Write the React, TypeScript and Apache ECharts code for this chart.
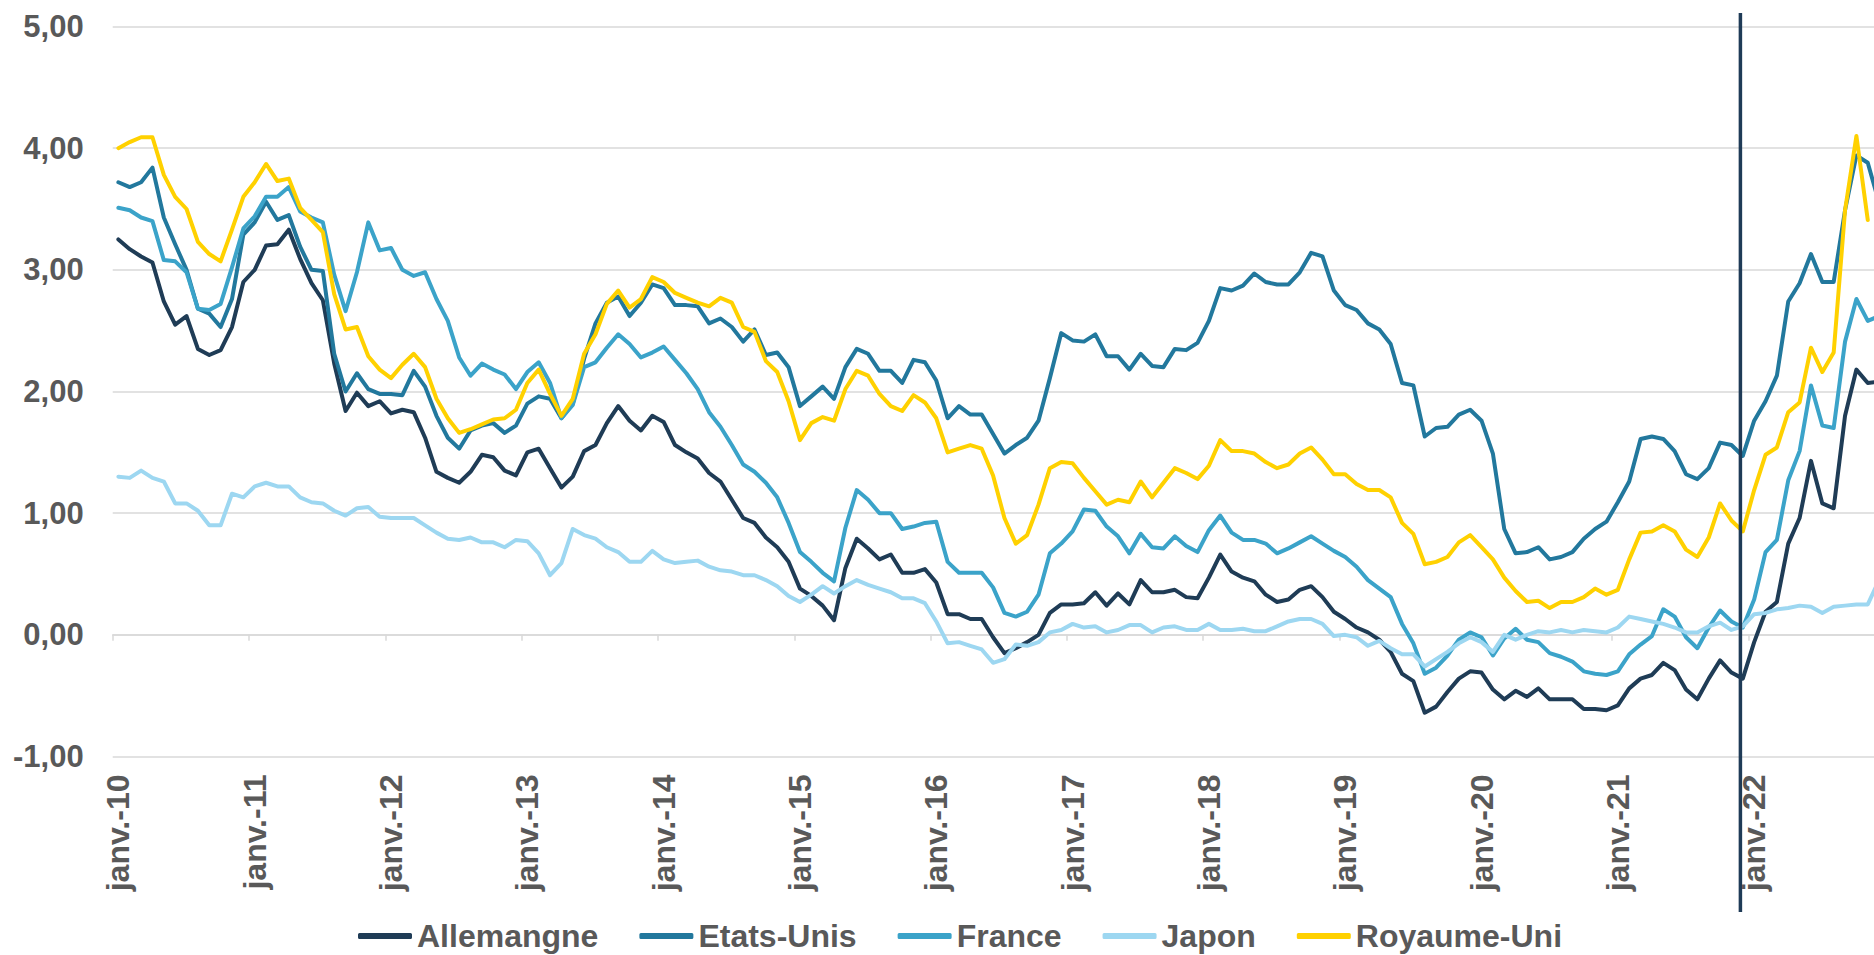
import React, { useEffect, useRef } from 'react';
import * as echarts from 'echarts';

const MONTHS = ['janv.', 'févr.', 'mars', 'avr.', 'mai', 'juin', 'juil.', 'août', 'sept.', 'oct.', 'nov.', 'déc.'];
const YEARS = ['10', '11', '12', '13', '14', '15', '16', '17', '18', '19', '20', '21', '22'];
const categories: string[] = [];
YEARS.forEach((y) => MONTHS.forEach((m) => categories.push(`${m}-${y}`)));

const MARKER_MONTH = 'déc.-21';

const allemagne = [
  3.25, 3.17, 3.11, 3.06, 2.74, 2.55, 2.62, 2.35, 2.30, 2.34, 2.53, 2.90,
  3.00, 3.20, 3.21, 3.33, 3.09, 2.89, 2.75, 2.23, 1.84, 1.99, 1.88, 1.92,
  1.82, 1.85, 1.83, 1.62, 1.34, 1.29, 1.25, 1.34, 1.48, 1.46, 1.35, 1.31,
  1.50, 1.53, 1.37, 1.21, 1.30, 1.51, 1.56, 1.74, 1.88, 1.76, 1.68, 1.80,
  1.75, 1.56, 1.50, 1.45, 1.33, 1.26, 1.11, 0.96, 0.92, 0.80, 0.72, 0.60,
  0.38, 0.32, 0.24, 0.12, 0.55, 0.79, 0.71, 0.62, 0.66, 0.51, 0.51, 0.54,
  0.43, 0.17, 0.17, 0.13, 0.13, -0.02, -0.15, -0.11, -0.06, 0.00, 0.18, 0.25,
  0.25, 0.26, 0.35, 0.24, 0.34, 0.25, 0.45, 0.35, 0.35, 0.37, 0.31, 0.30,
  0.47, 0.66, 0.52, 0.47, 0.44, 0.33, 0.27, 0.29, 0.37, 0.40, 0.31, 0.19,
  0.13, 0.06, 0.02, -0.04, -0.14, -0.32, -0.38, -0.64, -0.59, -0.47, -0.36, -0.30,
  -0.31, -0.45, -0.53, -0.46, -0.51, -0.44, -0.53, -0.53, -0.53, -0.61, -0.61, -0.62,
  -0.58, -0.44, -0.36, -0.33, -0.23, -0.29, -0.45, -0.53, -0.36, -0.21, -0.31, -0.36,
  -0.06, 0.19, 0.27, 0.75, 0.96, 1.43, 1.08, 1.04, 1.80, 2.18, 2.07, 2.08,
];

const etatsUnis = [
  3.72, 3.68, 3.72, 3.84, 3.43, 3.21, 3.00, 2.68, 2.64, 2.53, 2.76, 3.29,
  3.39, 3.56, 3.41, 3.45, 3.19, 3.00, 2.99, 2.31, 2.00, 2.15, 2.02, 1.98,
  1.98, 1.97, 2.17, 2.04, 1.80, 1.62, 1.53, 1.68, 1.72, 1.74, 1.66, 1.72,
  1.90, 1.96, 1.94, 1.78, 1.90, 2.27, 2.56, 2.73, 2.78, 2.62, 2.73, 2.88,
  2.85, 2.71, 2.71, 2.70, 2.56, 2.60, 2.53, 2.41, 2.51, 2.30, 2.32, 2.20,
  1.88, 1.96, 2.04, 1.94, 2.20, 2.35, 2.31, 2.17, 2.17, 2.07, 2.26, 2.24,
  2.09, 1.78, 1.88, 1.81, 1.81, 1.65, 1.49, 1.56, 1.62, 1.76, 2.11, 2.48,
  2.42, 2.41, 2.47, 2.29, 2.29, 2.18, 2.31, 2.21, 2.20, 2.35, 2.34, 2.40,
  2.58, 2.85, 2.83, 2.87, 2.97, 2.90, 2.88, 2.88, 2.98, 3.14, 3.11, 2.83,
  2.71, 2.67, 2.56, 2.51, 2.39, 2.07, 2.05, 1.63, 1.70, 1.71, 1.81, 1.85,
  1.76, 1.49, 0.87, 0.67, 0.68, 0.72, 0.62, 0.64, 0.68, 0.79, 0.87, 0.93,
  1.09, 1.26, 1.61, 1.63, 1.61, 1.51, 1.32, 1.28, 1.37, 1.58, 1.56, 1.47,
  1.76, 1.92, 2.13, 2.74, 2.89, 3.13, 2.90, 2.90, 3.49, 3.94, 3.88, 3.55,
];

const france = [
  3.51, 3.49, 3.43, 3.40, 3.08, 3.07, 2.98, 2.68, 2.67, 2.72, 3.02, 3.34,
  3.44, 3.60, 3.60, 3.68, 3.48, 3.43, 3.39, 2.96, 2.66, 2.98, 3.39, 3.16,
  3.18, 3.00, 2.95, 2.98, 2.76, 2.58, 2.28, 2.13, 2.23, 2.18, 2.14, 2.02,
  2.16, 2.24, 2.07, 1.78, 1.89, 2.20, 2.24, 2.36, 2.47, 2.39, 2.28, 2.32,
  2.37, 2.26, 2.15, 2.02, 1.83, 1.71, 1.56, 1.40, 1.34, 1.25, 1.13, 0.92,
  0.68, 0.60, 0.51, 0.44, 0.88, 1.19, 1.11, 1.00, 1.00, 0.87, 0.89, 0.92,
  0.93, 0.60, 0.51, 0.51, 0.51, 0.39, 0.18, 0.15, 0.19, 0.33, 0.67, 0.75,
  0.85, 1.03, 1.02, 0.89, 0.81, 0.67, 0.83, 0.72, 0.71, 0.81, 0.73, 0.68,
  0.86, 0.98, 0.84, 0.78, 0.78, 0.75, 0.67, 0.71, 0.76, 0.81, 0.75, 0.69,
  0.64, 0.56, 0.45, 0.38, 0.31, 0.09, -0.07, -0.32, -0.27, -0.17, -0.04, 0.02,
  -0.02, -0.17, -0.03, 0.05, -0.04, -0.06, -0.15, -0.18, -0.22, -0.30, -0.32, -0.33,
  -0.30, -0.16, -0.08, -0.01, 0.21, 0.15, -0.02, -0.11, 0.06, 0.20, 0.11, 0.06,
  0.29, 0.68, 0.78, 1.27, 1.51, 2.05, 1.72, 1.70, 2.41, 2.76, 2.58, 2.62,
];

const japon = [
  1.30, 1.29, 1.35, 1.29, 1.26, 1.08, 1.08, 1.02, 0.90, 0.90, 1.16, 1.13,
  1.22, 1.25, 1.22, 1.22, 1.13, 1.09, 1.08, 1.02, 0.98, 1.04, 1.05, 0.97,
  0.96, 0.96, 0.96, 0.90, 0.84, 0.79, 0.78, 0.80, 0.76, 0.76, 0.72, 0.78,
  0.77, 0.67, 0.49, 0.59, 0.87, 0.82, 0.79, 0.72, 0.68, 0.60, 0.60, 0.69,
  0.62, 0.59, 0.60, 0.61, 0.56, 0.53, 0.52, 0.49, 0.49, 0.45, 0.40, 0.32,
  0.27, 0.33, 0.40, 0.34, 0.40, 0.45, 0.41, 0.38, 0.35, 0.30, 0.30, 0.26,
  0.11, -0.07, -0.06, -0.09, -0.12, -0.23, -0.20, -0.08, -0.09, -0.06, 0.02, 0.04,
  0.09, 0.06, 0.07, 0.02, 0.04, 0.08, 0.08, 0.02, 0.06, 0.07, 0.04, 0.04,
  0.09, 0.04, 0.04, 0.05, 0.03, 0.03, 0.07, 0.11, 0.13, 0.13, 0.09, -0.01,
  0.00, -0.02, -0.09, -0.05, -0.11, -0.16, -0.16, -0.26, -0.20, -0.14, -0.07, -0.02,
  -0.06, -0.14, 0.00, -0.04, 0.00, 0.03, 0.02, 0.04, 0.02, 0.04, 0.03, 0.02,
  0.06, 0.15, 0.13, 0.11, 0.09, 0.06, 0.02, 0.02, 0.07, 0.10, 0.04, 0.07,
  0.17, 0.18, 0.21, 0.22, 0.24, 0.23, 0.18, 0.23, 0.24, 0.25, 0.25, 0.45,
];

const royaumeUni = [
  4.00, 4.05, 4.09, 4.09, 3.78, 3.60, 3.50, 3.23, 3.13, 3.07, 3.33, 3.60,
  3.72, 3.87, 3.73, 3.75, 3.51, 3.41, 3.31, 2.80, 2.51, 2.53, 2.29, 2.18,
  2.11, 2.22, 2.31, 2.20, 1.94, 1.78, 1.66, 1.69, 1.73, 1.77, 1.78, 1.85,
  2.07, 2.18, 1.98, 1.80, 1.94, 2.31, 2.47, 2.72, 2.83, 2.69, 2.76, 2.94,
  2.90, 2.81, 2.77, 2.73, 2.70, 2.77, 2.73, 2.53, 2.49, 2.25, 2.16, 1.92,
  1.60, 1.74, 1.79, 1.76, 2.02, 2.17, 2.13, 1.98, 1.88, 1.84, 1.97, 1.91,
  1.78, 1.50, 1.53, 1.56, 1.53, 1.31, 0.96, 0.75, 0.82, 1.07, 1.37, 1.42,
  1.41, 1.29, 1.18, 1.07, 1.11, 1.09, 1.26, 1.13, 1.25, 1.37, 1.33, 1.28,
  1.39, 1.60, 1.51, 1.51, 1.49, 1.42, 1.37, 1.40, 1.49, 1.54, 1.44, 1.32,
  1.32, 1.24, 1.19, 1.19, 1.13, 0.92, 0.83, 0.58, 0.60, 0.64, 0.76, 0.82,
  0.72, 0.62, 0.47, 0.36, 0.27, 0.28, 0.22, 0.27, 0.27, 0.31, 0.38, 0.33,
  0.37, 0.62, 0.84, 0.85, 0.90, 0.85, 0.70, 0.64, 0.80, 1.08, 0.94, 0.85,
  1.19, 1.48, 1.54, 1.83, 1.91, 2.36, 2.16, 2.32, 3.49, 4.10, 3.41, null,
];

const SERIES = [
  { name: 'Allemangne', data: allemagne, color: '#1F3C56' },
  { name: 'Etats-Unis', data: etatsUnis, color: '#22789D' },
  { name: 'France', data: france, color: '#3BA3C9' },
  { name: 'Japon', data: japon, color: '#9DD7F1' },
  { name: 'Royaume-Uni', data: royaumeUni, color: '#FFD100' },
];

const FONT = "'Liberation Sans', Arial, Helvetica, sans-serif";
const GREY = '#595959';
const GRID = '#D9D9D9';

export default function App() {
  const ref = useRef<HTMLDivElement>(null);

  useEffect(() => {
    if (!ref.current) return;
    const chart = echarts.init(ref.current, null, { renderer: 'svg' });
    chart.setOption({
      animation: false,
      backgroundColor: '#ffffff',
      grid: { left: 112.7, right: 15.2, top: 26.5, bottom: 198.5, containLabel: false },
      legend: {
        data: SERIES.map((s) => s.name),
        left: 358,
        top: 920,
        padding: 0,
        itemWidth: 54,
        itemHeight: 6,
        itemGap: 41,
        icon: 'roundRect',
        textStyle: { color: GREY, fontFamily: FONT, fontWeight: 'bold', fontSize: 32, lineHeight: 32 },
      },
      xAxis: [
        {
          type: 'category',
          data: categories,
          boundaryGap: true,
          position: 'bottom',
          axisLine: { show: false, onZero: false },
          axisTick: { show: false },
          splitLine: { show: false },
          axisLabel: {
            rotate: 90,
            margin: 18,
            interval: (i: number) => i % 12 === 0,
            color: GREY,
            fontFamily: FONT,
            fontWeight: 'bold',
            fontSize: 32,
          },
        },
        {
          type: 'category',
          data: categories,
          boundaryGap: true,
          position: 'bottom',
          axisLine: { show: true, onZero: true, lineStyle: { color: GRID, width: 1.5 } },
          axisTick: {
            show: true,
            length: 6,
            interval: (i: number) => i % 12 === 0,
            lineStyle: { color: GRID, width: 1.5 },
          },
          axisLabel: { show: false },
          splitLine: { show: false },
        },
      ],
      yAxis: {
        type: 'value',
        min: -1,
        max: 5,
        interval: 1,
        axisLine: { show: false },
        axisTick: { show: false },
        splitLine: { lineStyle: { color: GRID, width: 1.5 } },
        axisLabel: {
          margin: 29,
          color: GREY,
          fontFamily: FONT,
          fontWeight: 'bold',
          fontSize: 31,
          formatter: (v: number) => v.toFixed(2).replace('.', ','),
        },
      },
      series: SERIES.map((s) => ({
        name: s.name,
        type: 'line',
        data: s.data,
        xAxisIndex: 0,
        showSymbol: false,
        symbol: 'none',
        connectNulls: false,
        color: s.color,
        lineStyle: { color: s.color, width: 4, cap: 'round', join: 'round' },
      })),
    });

    const px = chart.convertToPixel({ xAxisIndex: 0 }, MARKER_MONTH) as number;
    const x = px - 2.4;
    chart.setOption({
      graphic: [
        {
          type: 'line',
          z: 100,
          shape: { x1: x, y1: 13, x2: x, y2: 912 },
          style: { stroke: '#1F3B57', lineWidth: 3.5 },
        },
      ],
    });

    return () => chart.dispose();
  }, []);

  return (
    <div style={{ position: 'fixed', left: 0, top: 0, width: 1874, height: 955, overflow: 'hidden', background: '#fff' }}>
      <div ref={ref} style={{ width: 1900, height: 955 }} />
    </div>
  );
}
